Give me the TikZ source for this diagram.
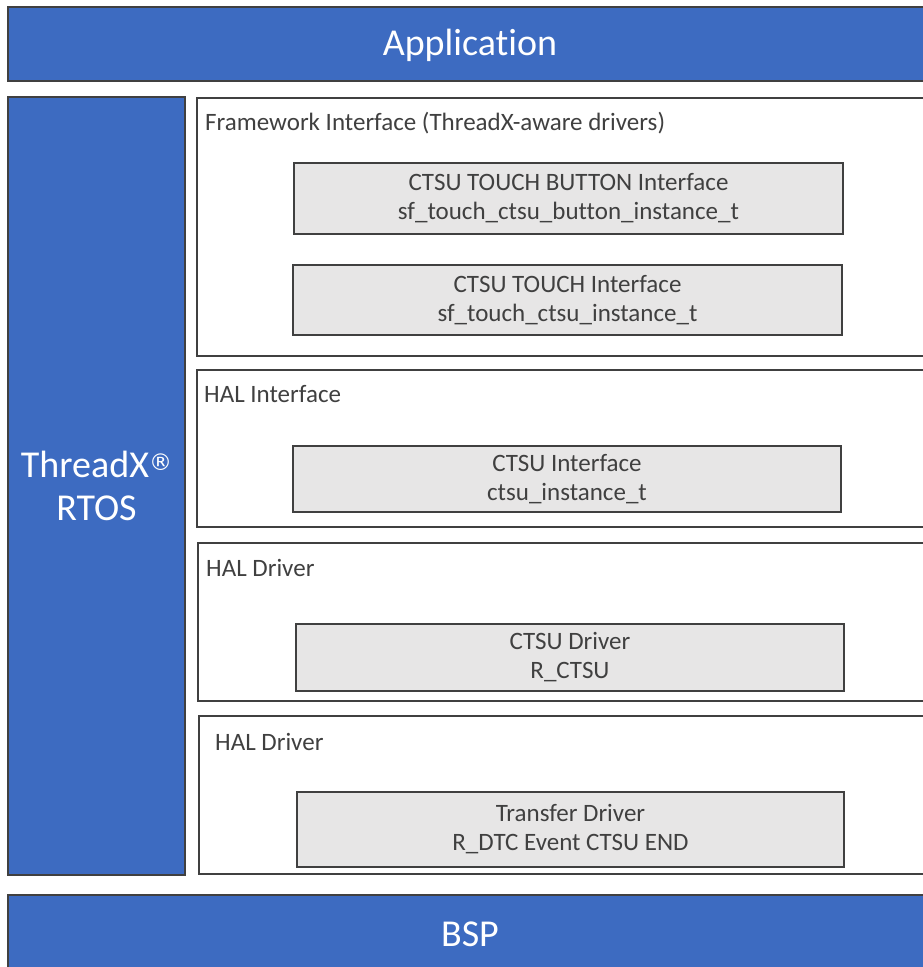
\documentclass[tikz,border=0pt]{standalone}
\usepackage{fontspec}
\setmainfont[Ligatures=NoCommon]{Carlito}
\newfontfamily\dvsans{DejaVu Sans}
\definecolor{blu}{HTML}{3D6BC1}
\definecolor{edge}{HTML}{404040}
\definecolor{gry}{HTML}{E7E6E6}
\definecolor{txt}{HTML}{404040}
\tikzset{
  bluebox/.style={draw=edge, fill=blu, line width=2pt, text=white, align=center,
    font=\fontsize{38}{43}\selectfont, inner sep=0pt, outer sep=0pt},
  layer/.style={draw=edge, fill=white, line width=2pt, inner sep=0pt, outer sep=0pt},
  inbox/.style={draw=edge, fill=gry, line width=2pt, align=center, text=txt,
    font=\fontsize{25}{29}\selectfont, inner sep=0pt, outer sep=0pt},
  lbl/.style={anchor=west, text=txt, font=\fontsize{25}{29}\selectfont, inner sep=0pt}
}
\begin{document}
\begin{tikzpicture}[x=1pt,y=-1pt]
\useasboundingbox (0,0) rectangle (923,967);
\clip (0,0) rectangle (923,967);
% top and bottom bars
\node[bluebox, minimum width=924pt, minimum height=74pt] (app) at (470,44) {\raisebox{-11pt}[0pt][0pt]{Application}};
\node[bluebox, minimum width=924pt, minimum height=80pt] (bsp) at (470,935) {\raisebox{-11pt}[0pt][0pt]{BSP}};
% RTOS column
\node[bluebox, minimum width=177pt, minimum height=778pt] (rtos) at (96.5,486) {ThreadX{\dvsans\fontsize{23}{23}\selectfont\raisebox{7pt}{®}}\\RTOS};
% layers
\node[layer, minimum width=738pt, minimum height=258pt] (fw) at (566,227) {};
\node[lbl] (fwl) at (205,123) {Framework Interface (ThreadX-aware drivers)};
\node[layer, minimum width=738pt, minimum height=157pt] (halif) at (566,448.5) {};
\node[lbl] (halifl) at (204,394) {HAL Interface};
\node[layer, minimum width=737pt, minimum height=158pt] (haldrv) at (566.5,622) {};
\node[lbl] (haldrvl) at (206,568) {HAL Driver};
\node[layer, minimum width=736pt, minimum height=158pt] (haldrvb) at (567,795) {};
\node[lbl] (haldrvbl) at (215,742) {HAL Driver};
% inner boxes
\node[inbox, minimum width=549pt, minimum height=71pt] (btn) at (568.5,198.5) {CTSU TOUCH BUTTON Interface\\sf\_touch\_ctsu\_button\_instance\_t};
\node[inbox, minimum width=549pt, minimum height=70pt] (touch) at (567.5,300) {CTSU TOUCH Interface\\sf\_touch\_ctsu\_instance\_t};
\node[inbox, minimum width=548pt, minimum height=66pt] (ctsuif) at (567,479) {CTSU Interface\\ctsu\_instance\_t};
\node[inbox, minimum width=548pt, minimum height=67pt] (drv) at (570,657.5) {CTSU Driver\\R\_CTSU};
\node[inbox, minimum width=547pt, minimum height=75pt] (xfer) at (570.5,829.5) {Transfer Driver\\R\_DTC Event CTSU END};
\end{tikzpicture}
\end{document}
